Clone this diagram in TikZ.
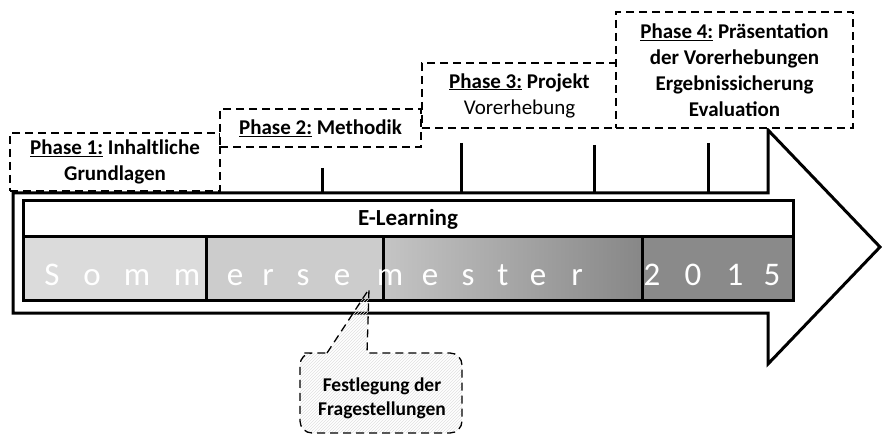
\documentclass[tikz,border=0pt]{standalone}
\usepackage{fontspec}
\setmainfont{Carlito}
\usetikzlibrary{positioning}
\usetikzlibrary{patterns}
\tikzset{
  box/.style       = { rectangle, inner sep=0pt, outer sep=0pt },
  border/.style    = { draw=black, line width=3pt },
  dashedline/.style= { draw=black, line width=1.3pt, dash pattern=on 8pt off 5pt },
}
\tikzset{
  phase/.style     = { box, dashedline, fill=white, align=center,
                       font=\bfseries\fontsize{21}{26}\selectfont },
  bar/.style       = { box, border, fill=white, font=\bfseries\fontsize{23}{26}\selectfont },
  cell/.style      = { box, border, minimum height=63pt },
  letter/.style    = { inner sep=0pt, text=white, font=\fontsize{33}{33}\selectfont },
  marker/.style    = { line width=3pt },
  note/.style      = { align=center, font=\bfseries\fontsize{19.5}{24}\selectfont },
  bubble/.style    = { dashedline, pattern=north east lines, pattern color=black!12 }
}

\begin{document}
\begin{tikzpicture}[x=1pt,y=-1pt,line join=miter]
  \useasboundingbox (0,0) rectangle (882,443);

  % arrow
  \draw [border,fill=white] (13,193) -- (768,193) -- (768,130) -- (880,247)
        -- (768,364) -- (768,313) -- (13,313) -- cycle;

  \node (p1) [phase,minimum width=210pt,minimum height=58pt] at (115,162) {\underline{Phase 1:} Inhaltliche\\Grundlagen};
  \node (p2) [phase,minimum width=201pt,minimum height=38pt] at (320.5,128) {\underline{Phase 2:} Methodik};
  \node (p3) [phase,minimum width=195pt,minimum height=65pt] at (519.5,95.5) {\underline{Phase 3:} Projekt\\{\mdseries Vorerhebung}};
  \node (p4) [phase,minimum width=237pt,minimum height=116pt] at (734.5,70) {\underline{Phase 4:} Präsentation\\der Vorerhebungen\\Ergebnissicherung\\Evaluation};

  \draw [marker] (322,168) -- (322,193);
  \draw [marker] (461,143) -- (461,193);
  \draw [marker] (594,145) -- (594,193);
  \draw [marker] (708,143) -- (708,193);

  \node (elearn) [bar,minimum width=770pt,minimum height=36pt] at (408,219) {E-Learning};
  \node (c1) [cell,fill=black!14,minimum width=183pt,anchor=north west] at (elearn.south west) {};
  \node (c2) [cell,fill=black!20,minimum width=177pt,right=0pt of c1] {};
  \node (c3) [cell,left color=black!23,right color=black!47,minimum width=259pt,right=0pt of c2] {};
  \node (c4) [cell,fill=black!46,minimum width=151pt,right=0pt of c3] {};

  \foreach \x/\ch [count=\i] in {52/S,92/o,137/m,187/m,235/e,268/r,303/s,342/e,390/m,
                                 430/e,468/s,503/t,538/e,577/r,652/2,693/0,735/1,772/5}
    \node (l\i) [letter,anchor=base] at (\x,285) {\ch};

  % speech bubble
  \draw [bubble] (327,353) -- (369,289) -- (367,353) -- (380,353) [rounded corners=12pt]
        -- (462,353) -- (462,433) -- (300,433) -- (300,353) -- (315,353) [sharp corners] -- cycle;
  \node (frage) [note] at (382,398) {Festlegung der\\Fragestellungen};

\end{tikzpicture}
\end{document}
